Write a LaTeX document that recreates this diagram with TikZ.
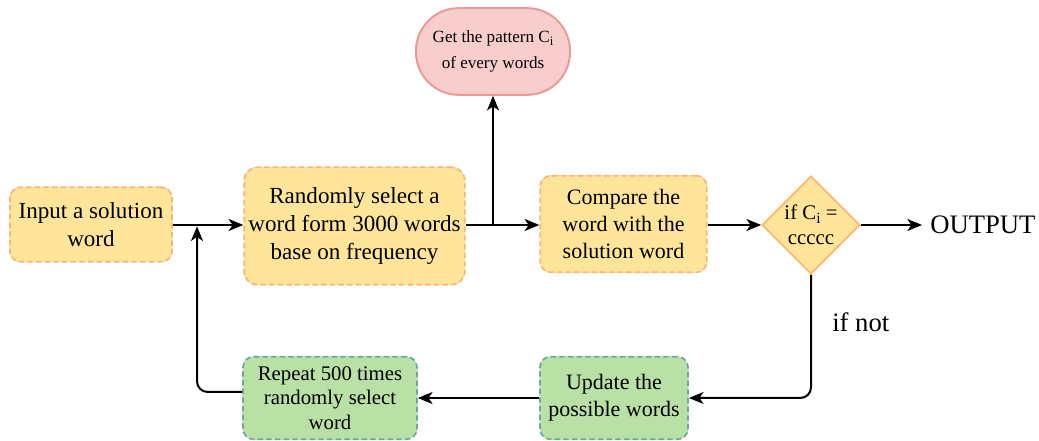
\documentclass[tikz,border=0pt]{standalone}
\usepackage{fontspec}
\setmainfont{LiberationSerif}[Extension=.ttf, UprightFont=*-Regular, BoldFont=*-Bold, ItalicFont=*-Italic]
\usetikzlibrary{shapes.geometric,arrows.meta}

\definecolor{yfill}{HTML}{FFE599}
\definecolor{ydraw}{HTML}{FFB570}
\definecolor{pfill}{HTML}{F8CECC}
\definecolor{pdraw}{HTML}{EA9A99}
\definecolor{gfill}{HTML}{B9E0A5}
\definecolor{gdraw}{HTML}{67AB9F}

% lowered subscript index, a little larger than \textsubscript
\newcommand{\lowi}{\raisebox{-0.35ex}{\fontsize{0.75em}{1em}\selectfont i}}

\tikzset{
  box/.style={rectangle, rounded corners=8pt, align=center, inner sep=2pt,
    line width=1.3pt, dash pattern=on 4pt off 2.5pt,
    preaction={draw=black!25, line width=0.5pt, solid}},
  ybox/.style={box, fill=yfill, draw=ydraw},
  gbox/.style={box, fill=gfill, draw=gdraw},
  pill/.style={rectangle, rounded corners=32pt, fill=pfill, draw=pdraw,
    line width=1.5pt, align=center, inner sep=2pt},
  decide/.style={diamond, aspect=1, fill=yfill, draw=ydraw, line width=1.3pt,
    minimum width=73.5pt, minimum height=73.5pt, inner sep=0pt},
  fbig/.style={font=\rmfamily\fontsize{17.3}{21}\selectfont},
  fmid/.style={font=\rmfamily\fontsize{16.5}{20}\selectfont},
  fsmall/.style={font=\rmfamily\fontsize{15.6}{18.5}\selectfont},
  ftiny/.style={font=\rmfamily\fontsize{12.8}{19}\selectfont},
  flabel/.style={font=\rmfamily\fontsize{20}{24}\selectfont, inner sep=0pt, anchor=west},
  flow/.style={line width=1.5pt, -{Stealth[length=11pt,width=9pt,inset=3pt]}},
}

\begin{document}
\begin{tikzpicture}[x=0.75pt,y=-0.75pt]
\useasboundingbox (0,0) rectangle (1039,441);

% process boxes
\node[ybox, fbig, minimum width=121.5pt, minimum height=56pt] (input) at (91,224.5)
  {Input a solution\\word};
\node[ybox, fbig, minimum width=165.5pt, minimum height=88pt, rounded corners=10pt] (rand) at (354.5,226)
  {Randomly select a\\word form 3000 words\\base on frequency};
\node[pill, ftiny, minimum width=115.5pt, minimum height=65pt] (pat) at (493,51.5)
  {Get the pattern C\lowi\\of every words};
\node[ybox, fmid, minimum width=125pt, minimum height=72.5pt] (comp) at (623.5,224)
  {Compare the\\word with the\\solution word};
\node[decide] (dec) at (811,225) {};
\node[fsmall, align=center] (dectext) at (811,225) {if C\lowi\ =\\ccccc};
\node[flabel] (out) at (930,225) {OUTPUT};
\node[gbox, fmid, minimum width=111pt, minimum height=62pt] (upd) at (614,398)
  {Update the\\possible words};
\node[gbox, fsmall, minimum width=130.5pt, minimum height=62pt] (rep) at (330,398)
  {Repeat 500 times\\randomly select\\word};
\node[flabel] (ifnot) at (832,322) {if not};

% connectors
\coordinate (join) at (197,225);
\coordinate (split) at (493,225);
\draw[flow] (input.east |- join) -- (rand.west |- join);
\draw[flow] (rand.east |- split) -- (comp.west |- split);
\draw[flow] (split) -- (pat.south);
\draw[flow] (comp.east |- dec) -- (dec.west);
\draw[flow, shorten >=6pt] (dec.east) -- (out.west);
\draw[flow, rounded corners=8pt] (dec.south) |- (upd.east);
\draw[flow] (upd.west) -- (rep.east);
\draw[flow, rounded corners=8pt] ([yshift=4.5pt]rep.west) -| ([yshift=-1pt]join);
\end{tikzpicture}
\end{document}
